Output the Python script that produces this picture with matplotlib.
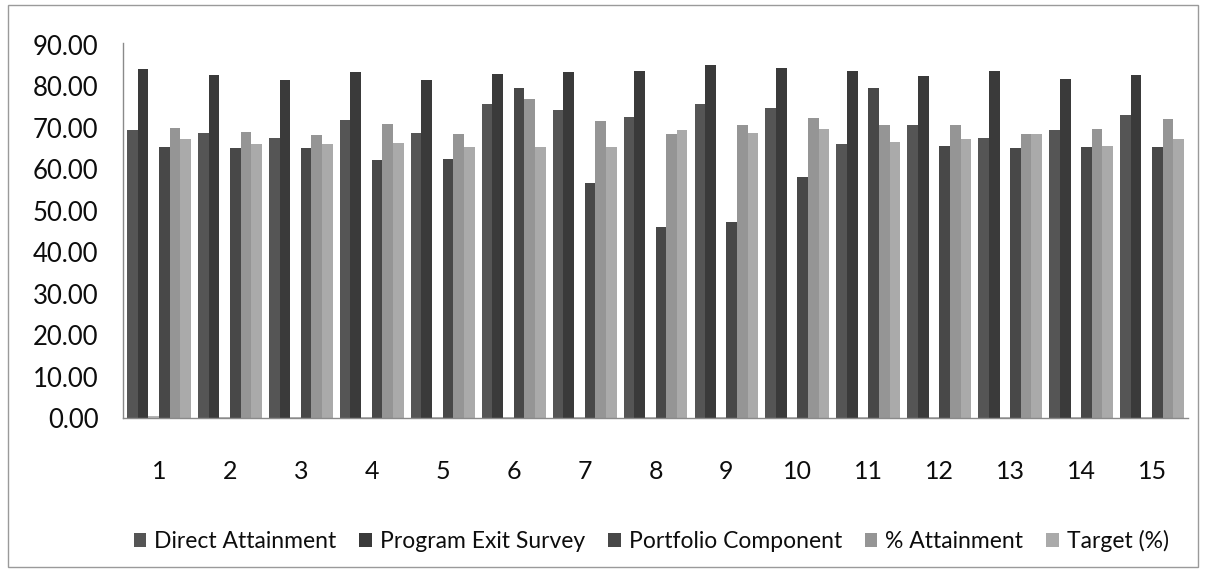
import numpy as np
import matplotlib.pyplot as plt
from matplotlib.patches import Rectangle

plt.rcParams['font.family'] = ['Lato', 'DejaVu Sans']

# Values (15 groups)
groups = [str(i) for i in range(1, 16)]
direct_attainment = [69.5, 68.7, 67.5, 71.9, 68.8, 75.7, 74.3, 72.7, 75.7, 74.8, 66.1, 70.6, 67.6, 69.5, 73.1]
exit_survey = [84.2, 82.8, 81.5, 83.4, 81.5, 83.0, 83.5, 83.8, 85.1, 84.5, 83.7, 82.6, 83.6, 81.7, 82.8]
unnamed_series = [0.4, 0.3, 0.3, 0.3, 0.3, 0.3, 0.3, 0.3, 0.3, 0.3, 0.3, 0.3, 0.3, 0.3, 0.3]
portfolio = [65.3, 65.2, 65.2, 62.3, 62.5, 79.5, 56.8, 46.0, 47.3, 58.1, 79.6, 65.5, 65.2, 65.3, 65.4]
pct_attainment = [69.9, 69.0, 68.3, 71.0, 68.6, 76.9, 71.6, 68.4, 70.8, 72.3, 70.6, 70.6, 68.6, 69.7, 72.2]
target = [67.4, 66.1, 66.2, 66.3, 65.4, 65.4, 65.4, 69.4, 68.7, 69.6, 66.5, 67.4, 68.4, 65.6, 67.2]

series = [
    (direct_attainment, 'Direct Attainment', '#555555'),
    (exit_survey, 'Program Exit Survey', '#3a3a3a'),
    (unnamed_series, '_nolegend_', '#b4b4b4'),
    (portfolio, 'Portfolio Component', '#484848'),
    (pct_attainment, '% Attainment', '#959595'),
    (target, 'Target (%)', '#aaaaaa'),
]

fig = plt.figure(figsize=(12.06, 5.79), dpi=100)
ax = fig.add_axes([0.1024, 0.278, 0.8823, 0.648])

x = np.arange(len(groups))
w = 0.15
for i, (vals, name, col) in enumerate(series):
    ax.bar(x + (i - 2.5) * w, vals, width=w, color=col, label=name, linewidth=0)

ax.set_xlim(-0.5, len(groups) - 0.5)
ax.set_ylim(0, 90.5)
ax.set_yticks(np.arange(0, 91, 10))
ax.set_yticklabels([f'{v:.2f}' for v in np.arange(0, 91, 10)])
ax.set_xticks(x)
ax.set_xticklabels(groups)
ax.tick_params(axis='y', length=0, pad=18, labelsize=18.5, labelcolor='#0d0d0d')
ax.tick_params(axis='x', length=0, pad=30, labelsize=18, labelcolor='#0d0d0d')

for s in ['top', 'right']:
    ax.spines[s].set_visible(False)
for s in ['left', 'bottom']:
    ax.spines[s].set_color('#8a8a8a')
    ax.spines[s].set_linewidth(1.0)

fig.legend(loc='center', bbox_to_anchor=(0.54, 0.066), ncol=5, frameon=False,
           fontsize=16.5, handlelength=0.55, handleheight=0.55, handletextpad=0.35,
           columnspacing=1.0, labelcolor='#0d0d0d')

# chart border from the scan
fig.patches.append(Rectangle((0.007, 0.02), 0.986, 0.972, transform=fig.transFigure,
                             fill=False, edgecolor='#9a9a9a', linewidth=1.0))

fig.savefig('out.png', dpi=100)
